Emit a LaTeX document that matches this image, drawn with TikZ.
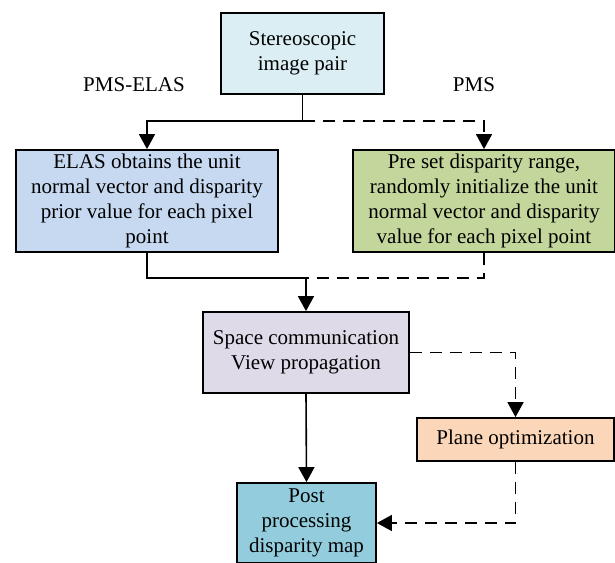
\documentclass[tikz,border=0pt]{standalone}
\usepackage{fontspec}
\setmainfont{Liberation Serif}
\usetikzlibrary{arrows.meta}
\definecolor{paircol}{HTML}{DBEEF4}
\definecolor{elascol}{HTML}{C6D9F1}
\definecolor{pmscol}{HTML}{C3D69B}
\definecolor{spacecol}{HTML}{DFDAE8}
\definecolor{planecol}{HTML}{FBD6B8}
\definecolor{postcol}{HTML}{93CDDD}

\begin{document}
\begin{tikzpicture}[x=1pt, y=-1pt,
		box/.style={draw, line width=1.8pt, align=center, inner sep=2pt, font=\fontsize{21}{25}\selectfont},
		lbl/.style={font=\fontsize{21}{25}\selectfont},
		link/.style={line width=1.6pt},
		flow/.style={link, -{Triangle[width=16pt,length=15pt]}},
		dashlink/.style={link, dash pattern=on 12pt off 8pt},
		flowdash/.style={flow, dash pattern=on 12pt off 8pt}]
	\useasboundingbox (0,0) rectangle (615,562);
	\clip (0,0) rectangle (615,562);

	\node[box, fill=paircol, minimum width=163pt, minimum height=81pt] (pair) at (302.5,53.5) {Stereoscopic\\image pair};
	\node[box, fill=elascol, minimum width=262pt, minimum height=102pt] (elas) at (147,201) {ELAS obtains the unit\\normal vector and disparity\\prior value for each pixel\\point};
	\node[box, fill=pmscol, minimum width=262pt, minimum height=102pt] (pms) at (484,201) {Pre set disparity range,\\randomly initialize the unit\\normal vector and disparity\\value for each pixel point};
	\node[box, fill=spacecol, minimum width=206pt, minimum height=81pt] (space) at (306,352.5) {Space communication\\View propagation};
	\node[box, fill=planecol, minimum width=197pt, minimum height=43pt] (plane) at (515.5,439.5) {Plane optimization};
	\node[box, fill=postcol, minimum width=139pt, minimum height=80pt] (post) at (306.5,523) {Post\\processing\\disparity map};

	\node[lbl] (lblelas) at (134,85) {PMS-ELAS};
	\node[lbl] (lblpms) at (474,85) {PMS};

	\coordinate (split) at (302.5,121);
	\coordinate (merge) at (306,278);

	% branches
	\draw[flow] (pair.south) -- (split) -| (elas.north);
	\draw[flowdash] (split) -| (pms.north);
	\draw[flow] (elas.south) |- (merge) -- (space.north);
	\draw[dashlink] (pms.south) |- (merge);

	% refinement
	\draw[flowdash] (space.east) -| (plane.north);
	\draw[flow] (space.south) -- (post.north);
	\draw[flowdash] (plane.south) |- (post.east);
\end{tikzpicture}
\end{document}
